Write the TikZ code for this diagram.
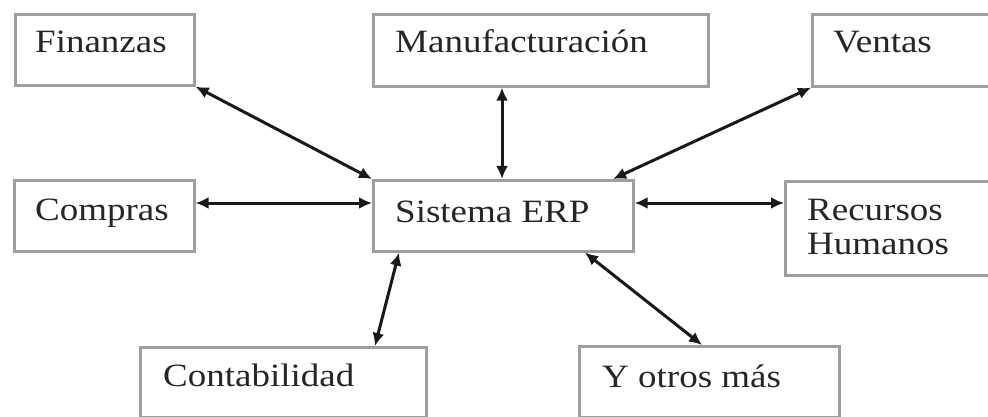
\documentclass[tikz,border=0pt]{standalone}
\usepackage{fontspec}
\usepackage{graphicx}
\setmainfont{Liberation Serif}
\usetikzlibrary{arrows.meta}
% box labels are set slightly compressed in height
\newcommand{\boxtext}[1]{\scalebox{1}[0.88]{#1}}
\tikzset{
  box/.style={draw=black!38, line width=2.6pt, rectangle, anchor=north west, inner sep=0pt},
  label/.style={anchor=base west, inner sep=0pt, text=black!85,
    font=\fontsize{37}{40}\selectfont},
  link/.style={line width=3pt, black!90,
    {Latex[length=13pt,width=12pt]}-{Latex[length=13pt,width=12pt]}}
}
\begin{document}
\begin{tikzpicture}[x=1pt,y=-1pt]
  \clip (0,0) rectangle (988,417);
  \fill[white] (0,0) rectangle (988,417);

  % boxes
  \node[box, minimum width=179pt, minimum height=71pt] (fin) at (14,13) {};
  \node[box, minimum width=335pt, minimum height=72pt] (man) at (372,13) {};
  \node[box, minimum width=200pt, minimum height=72pt] (ven) at (811,13) {};
  \node[box, minimum width=180pt, minimum height=71pt] (com) at (13,179) {};
  \node[box, minimum width=260pt, minimum height=71pt] (erp) at (372,179) {};
  \node[box, minimum width=226pt, minimum height=94pt] (rh)  at (784,180) {};
  \node[box, minimum width=286pt, minimum height=70pt] (con) at (139,346) {};
  \node[box, minimum width=260pt, minimum height=71pt] (otr) at (578,345) {};

  % labels
  \node[label] (tfin) at (35,53)  {\boxtext{Finanzas}};
  \node[label] (tman) at (395,53) {\boxtext{Manufacturación}};
  \node[label] (tven) at (833,53) {\boxtext{Ventas}};
  \node[label] (tcom) at (35,220) {\boxtext{Compras}};
  \node[label] (terp) at (395,222) {\boxtext{Sistema ERP}};
  \node[label] (trh1) at (807,220) {\boxtext{Recursos}};
  \node[label] (trh2) at (807,254) {\boxtext{Humanos}};
  \node[label] (tcon) at (163,386) {\boxtext{Contabilidad}};
  \node[label] (totr) at (602,387) {\boxtext{Y otros más}};

  % attachment points along box edges
  \coordinate (xman) at (502,0);
  \coordinate (xven) at (613,0);
  \coordinate (ymid) at (0,203);
  \coordinate (xerpA) at (399,0);
  \coordinate (xconA) at (375,0);
  \coordinate (xerpB) at (585,0);
  \coordinate (xotrB) at (702,0);

  % connectors
  \draw[link] (fin.south east) -- (erp.north west);
  \draw[link] (man.south -| xman) -- (erp.north -| xman);
  \draw[link] (ven.south west) -- (erp.north -| xven);
  \draw[link] (com.east |- ymid) -- (erp.west |- ymid);
  \draw[link] (erp.east |- ymid) -- (rh.west |- ymid);
  \draw[link] (erp.south -| xerpA) -- (con.north -| xconA);
  \draw[link] (erp.south -| xerpB) -- (otr.north -| xotrB);
\end{tikzpicture}
\end{document}
